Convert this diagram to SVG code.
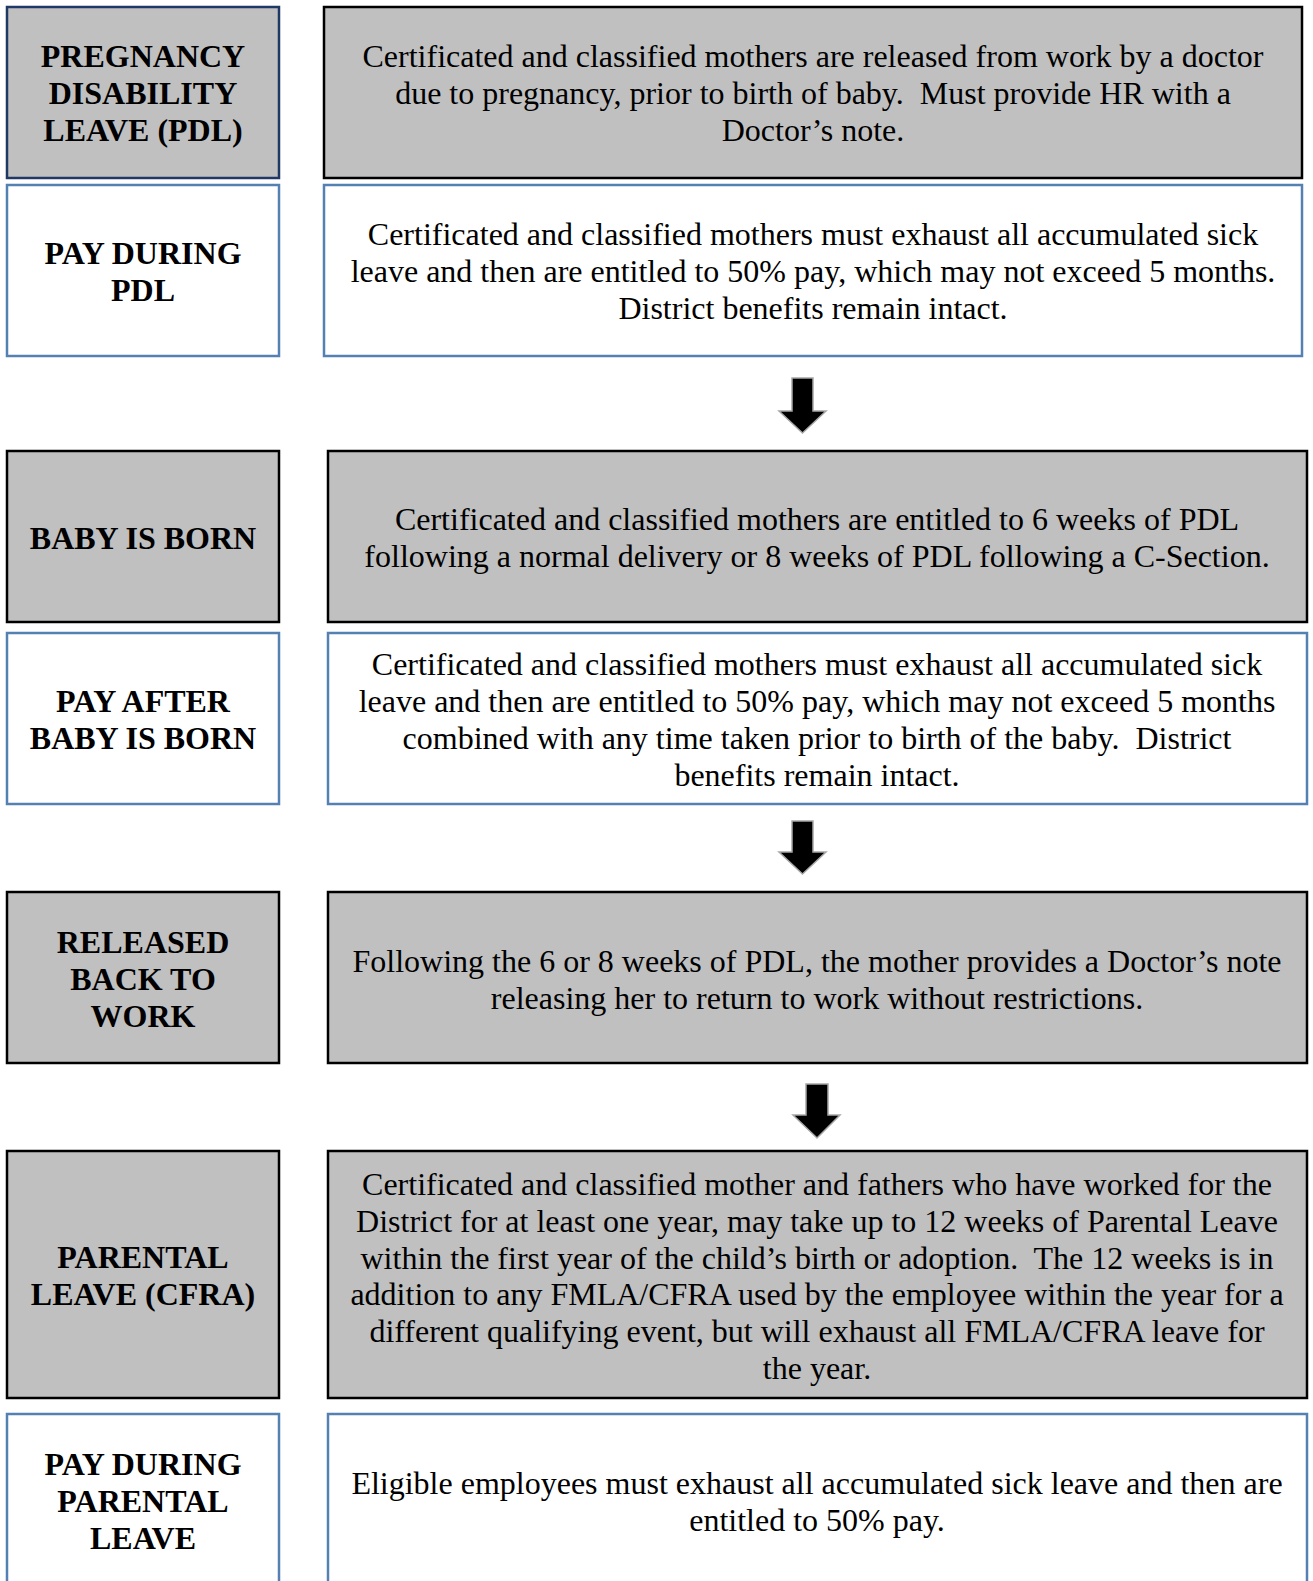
<svg xmlns="http://www.w3.org/2000/svg" width="1313" height="1581" viewBox="0 0 1313 1581">
<style>
  .g { fill: #c0c0c0; stroke: #000; stroke-width: 2.5; }
  .gn { fill: #c0c0c0; stroke: #1f3864; stroke-width: 2.5; }
  .w { fill: #fff; stroke: #5581b2; stroke-width: 2.5; }
  .lab { font-family: "Liberation Serif", "Times New Roman", serif; font-size: 32px; font-weight: bold; fill: #000; text-anchor: middle; }
  .txt { font-family: "Liberation Serif", "Times New Roman", serif; font-size: 32px; fill: #000; text-anchor: middle; white-space: pre; }
  .arr { fill: #000; stroke: #a6a6a6; stroke-width: 1.5; }
</style>
<rect width="1313" height="1581" fill="#fff"/>

<g id="n1">
  <rect class="gn" x="7" y="7" width="272" height="171"/>
  <text class="lab" x="143" y="67">PREGNANCY</text>
  <text class="lab" x="143" y="104">DISABILITY</text>
  <text class="lab" x="143" y="141">LEAVE (PDL)</text>
</g>
<g id="n1d">
  <rect class="g" x="324" y="7" width="978" height="171"/>
  <text class="txt" x="813" y="67">Certificated and classified mothers are released from work by a doctor</text>
  <text class="txt" x="813" y="104">due to pregnancy, prior to birth of baby.  Must provide HR with a</text>
  <text class="txt" x="813" y="141">Doctor’s note.</text>
</g>

<g id="n2">
  <rect class="w" x="7" y="185" width="272" height="171"/>
  <text class="lab" x="143" y="264">PAY DURING</text>
  <text class="lab" x="143" y="301">PDL</text>
</g>
<g id="n2d">
  <rect class="w" x="324" y="185" width="978" height="171"/>
  <text class="txt" x="813" y="245">Certificated and classified mothers must exhaust all accumulated sick</text>
  <text class="txt" x="813" y="282">leave and then are entitled to 50% pay, which may not exceed 5 months.</text>
  <text class="txt" x="813" y="319">District benefits remain intact.</text>
</g>

<g id="n3">
  <rect class="g" x="7" y="451" width="272" height="171"/>
  <text class="lab" x="143" y="549">BABY IS BORN</text>
</g>
<g id="n3d">
  <rect class="g" x="328" y="451" width="979" height="171"/>
  <text class="txt" x="817" y="530">Certificated and classified mothers are entitled to 6 weeks of PDL</text>
  <text class="txt" x="817" y="567">following a normal delivery or 8 weeks of PDL following a C-Section.</text>
</g>

<g id="n4">
  <rect class="w" x="7" y="633" width="272" height="171"/>
  <text class="lab" x="143" y="712">PAY AFTER</text>
  <text class="lab" x="143" y="749">BABY IS BORN</text>
</g>
<g id="n4d">
  <rect class="w" x="328" y="633" width="979" height="171"/>
  <text class="txt" x="817" y="675">Certificated and classified mothers must exhaust all accumulated sick</text>
  <text class="txt" x="817" y="712">leave and then are entitled to 50% pay, which may not exceed 5 months</text>
  <text class="txt" x="817" y="749">combined with any time taken prior to birth of the baby.  District</text>
  <text class="txt" x="817" y="786">benefits remain intact.</text>
</g>

<g id="n5">
  <rect class="g" x="7" y="892" width="272" height="171"/>
  <text class="lab" x="143" y="953">RELEASED</text>
  <text class="lab" x="143" y="990">BACK TO</text>
  <text class="lab" x="143" y="1027">WORK</text>
</g>
<g id="n5d">
  <rect class="g" x="328" y="892" width="979" height="171"/>
  <text class="txt" x="817" y="972">Following the 6 or 8 weeks of PDL, the mother provides a Doctor’s note</text>
  <text class="txt" x="817" y="1009">releasing her to return to work without restrictions.</text>
</g>

<g id="n6">
  <rect class="g" x="7" y="1151" width="272" height="247"/>
  <text class="lab" x="143" y="1268">PARENTAL</text>
  <text class="lab" x="143" y="1305">LEAVE (CFRA)</text>
</g>
<g id="n6d">
  <rect class="g" x="328" y="1151" width="979" height="247"/>
  <text class="txt" x="817" y="1195">Certificated and classified mother and fathers who have worked for the</text>
  <text class="txt" x="817" y="1232">District for at least one year, may take up to 12 weeks of Parental Leave</text>
  <text class="txt" x="817" y="1269">within the first year of the child’s birth or adoption.  The 12 weeks is in</text>
  <text class="txt" x="817" y="1305">addition to any FMLA/CFRA used by the employee within the year for a</text>
  <text class="txt" x="817" y="1342">different qualifying event, but will exhaust all FMLA/CFRA leave for</text>
  <text class="txt" x="817" y="1379">the year.</text>
</g>

<g id="n7">
  <rect class="w" x="7" y="1414" width="272" height="180"/>
  <text class="lab" x="143" y="1475">PAY DURING</text>
  <text class="lab" x="143" y="1512">PARENTAL</text>
  <text class="lab" x="143" y="1549">LEAVE</text>
</g>
<g id="n7d">
  <rect class="w" x="328" y="1414" width="979" height="180"/>
  <text class="txt" x="817" y="1494">Eligible employees must exhaust all accumulated sick leave and then are</text>
  <text class="txt" x="817" y="1531">entitled to 50% pay.</text>
</g>

<g id="connectors">
  <polygon class="arr" points="792,378 813,378 813,411 826,411 802.5,433 779,411 792,411"/>
  <polygon class="arr" points="792,821 813,821 813,852 826,852 802.5,874 779,852 792,852"/>
  <polygon class="arr" points="806,1084 828,1084 828,1115 840,1115 817,1138 793,1115 806,1115"/>
</g>
</svg>
